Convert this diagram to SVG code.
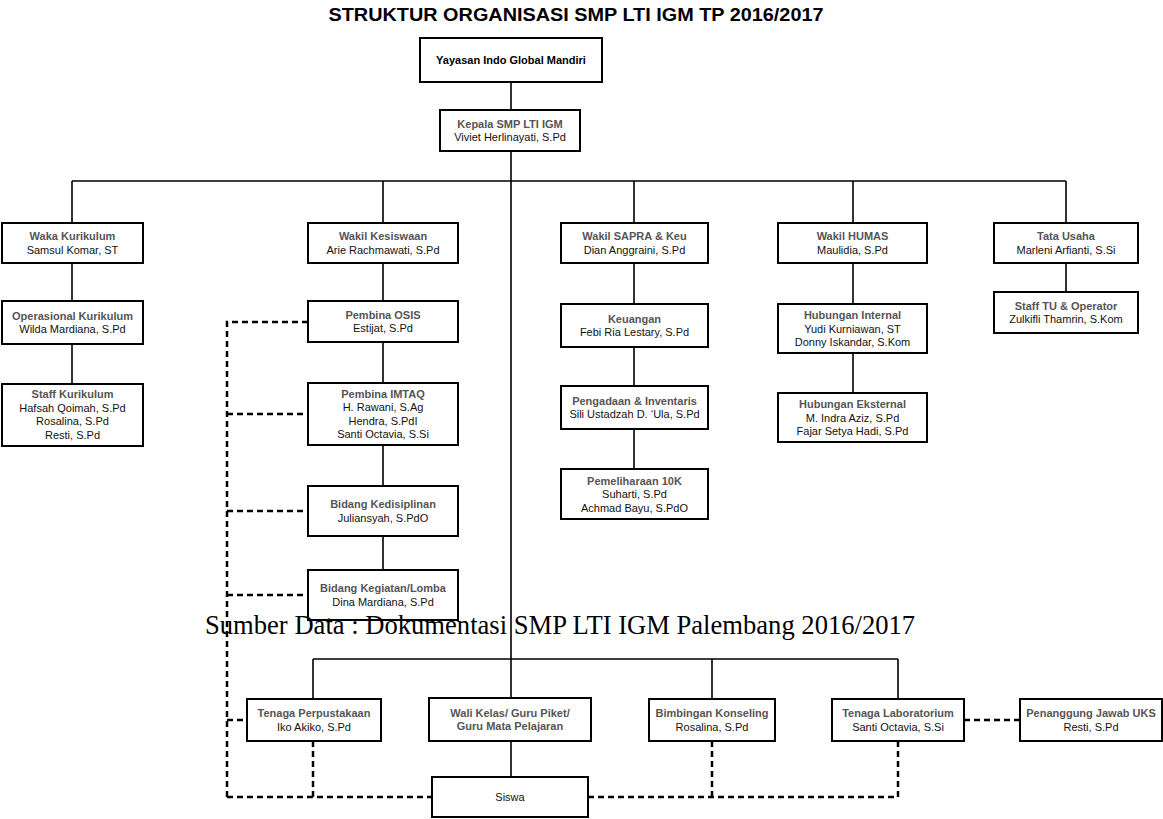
<svg xmlns="http://www.w3.org/2000/svg" width="1163" height="819" viewBox="0 0 1163 819">
<style>
.box{fill:#fff;stroke:#000;stroke-width:2}
.t{font-family:"Liberation Sans",Arial,sans-serif;font-size:11px;text-anchor:middle}
.h{font-weight:bold;fill:#555}
.n{fill:#111}
.b{font-weight:bold;fill:#000}
.ln{stroke:#000;stroke-width:1.6;fill:none}
.dash{stroke:#000;stroke-width:2.5;stroke-dasharray:6 4;fill:none}
</style>
<rect x="0" y="0" width="1163" height="819" fill="#fff"/>
<text x="576" y="21" font-family="'Liberation Sans',Arial,sans-serif" font-size="19" font-weight="bold" text-anchor="middle" textLength="495" lengthAdjust="spacingAndGlyphs">STRUKTUR ORGANISASI SMP LTI IGM TP 2016/2017</text>

<g id="connectors">
<path class="ln" d="M511 82V110M511 151V698M72 181H1066M72 181V223M383 181V223M634 181V223M853 181V223M1066 181V223"/>
<path class="ln" d="M72 263V301M72 344V384M383 263V301M383 342V383M383 445V486M383 536V570M634 263V304M634 347V386M634 429V469M853 263V304M853 353V393M1066 263V292"/>
<path class="ln" d="M313 659H898M313 659V699M712 659V699M898 659V699M511 741V777"/>
<path class="dash" d="M227 797V322H308M227 414H308M227 511H308M227 595H308M227 720H247M227 797H432M313 741V797M588 797H898M712 741V797M898 741V797M964 720H1020"/>
</g>

<g id="yayasan"><rect class="box" x="420" y="38" width="182" height="44"/><text class="t b" x="511" y="64">Yayasan Indo Global Mandiri</text></g>
<g id="kepala"><rect class="box" x="440" y="110" width="140" height="41"/><text class="t h" x="510" y="128">Kepala SMP LTI IGM</text><text class="t n" x="510" y="141">Viviet Herlinayati, S.Pd</text></g>

<g id="waka-kurikulum"><rect class="box" x="2" y="223" width="141" height="40"/><text class="t h" x="72.5" y="240">Waka Kurikulum</text><text class="t n" x="72.5" y="254">Samsul Komar, ST</text></g>
<g id="operasional-kurikulum"><rect class="box" x="2" y="301" width="141" height="43"/><text class="t h" x="72.5" y="320">Operasional Kurikulum</text><text class="t n" x="72.5" y="333">Wilda Mardiana, S.Pd</text></g>
<g id="staff-kurikulum"><rect class="box" x="2" y="384" width="141" height="62"/><text class="t h" x="72.5" y="398">Staff Kurikulum</text><text class="t n" x="72.5" y="411.5">Hafsah Qoimah, S.Pd</text><text class="t n" x="72.5" y="425">Rosalina, S.Pd</text><text class="t n" x="72.5" y="438.5">Resti, S.Pd</text></g>

<g id="wakil-kesiswaan"><rect class="box" x="308" y="223" width="150" height="40"/><text class="t h" x="383" y="240">Wakil Kesiswaan</text><text class="t n" x="383" y="254">Arie Rachmawati, S.Pd</text></g>
<g id="pembina-osis"><rect class="box" x="308" y="301" width="150" height="41"/><text class="t h" x="383" y="319">Pembina OSIS</text><text class="t n" x="383" y="332">Estijat, S.Pd</text></g>
<g id="pembina-imtaq"><rect class="box" x="308" y="383" width="150" height="62"/><text class="t h" x="383" y="398">Pembina IMTAQ</text><text class="t n" x="383" y="411">H. Rawani, S.Ag</text><text class="t n" x="383" y="425">Hendra, S.PdI</text><text class="t n" x="383" y="438">Santi Octavia, S.Si</text></g>
<g id="bidang-kedisiplinan"><rect class="box" x="308" y="486" width="150" height="50"/><text class="t h" x="383" y="508">Bidang Kedisiplinan</text><text class="t n" x="383" y="522">Juliansyah, S.PdO</text></g>
<g id="bidang-kegiatan"><rect class="box" x="308" y="570" width="150" height="50"/><text class="t h" x="383" y="592">Bidang Kegiatan/Lomba</text><text class="t n" x="383" y="606">Dina Mardiana, S.Pd</text></g>

<g id="wakil-sapra"><rect class="box" x="561" y="223" width="147" height="40"/><text class="t h" x="634.5" y="240">Wakil SAPRA &amp; Keu</text><text class="t n" x="634.5" y="254">Dian Anggraini, S.Pd</text></g>
<g id="keuangan"><rect class="box" x="561" y="304" width="147" height="43"/><text class="t h" x="634.5" y="323">Keuangan</text><text class="t n" x="634.5" y="336">Febi Ria Lestary, S.Pd</text></g>
<g id="pengadaan"><rect class="box" x="561" y="386" width="147" height="43"/><text class="t h" x="634.5" y="405">Pengadaan &amp; Inventaris</text><text class="t n" x="634.5" y="418">Sili Ustadzah D. ‘Ula, S.Pd</text></g>
<g id="pemeliharaan"><rect class="box" x="561" y="469" width="147" height="50"/><text class="t h" x="634.5" y="484.5">Pemeliharaan 10K</text><text class="t n" x="634.5" y="498">Suharti, S.Pd</text><text class="t n" x="634.5" y="511.5">Achmad Bayu, S.PdO</text></g>

<g id="wakil-humas"><rect class="box" x="778" y="223" width="149" height="40"/><text class="t h" x="852.5" y="240">Wakil HUMAS</text><text class="t n" x="852.5" y="254">Maulidia, S.Pd</text></g>
<g id="hubungan-internal"><rect class="box" x="778" y="304" width="149" height="49"/><text class="t h" x="852.5" y="319">Hubungan Internal</text><text class="t n" x="852.5" y="332.5">Yudi Kurniawan, ST</text><text class="t n" x="852.5" y="346">Donny Iskandar, S.Kom</text></g>
<g id="hubungan-eksternal"><rect class="box" x="778" y="393" width="149" height="49"/><text class="t h" x="852.5" y="408">Hubungan Eksternal</text><text class="t n" x="852.5" y="421.5">M. Indra Aziz, S.Pd</text><text class="t n" x="852.5" y="435">Fajar Setya Hadi, S.Pd</text></g>

<g id="tata-usaha"><rect class="box" x="994" y="223" width="144" height="40"/><text class="t h" x="1066" y="240">Tata Usaha</text><text class="t n" x="1066" y="254">Marleni Arfianti, S.Si</text></g>
<g id="staff-tu"><rect class="box" x="994" y="292" width="144" height="41"/><text class="t h" x="1066" y="310">Staff TU &amp; Operator</text><text class="t n" x="1066" y="323">Zulkifli Thamrin, S.Kom</text></g>

<text x="205" y="634" font-family="'Liberation Serif','Times New Roman',serif" font-size="26.6" fill="#000">Sumber Data : Dokumentasi SMP LTI IGM Palembang 2016/2017</text>

<g id="tenaga-perpustakaan"><rect class="box" x="247" y="699" width="134" height="42"/><text class="t h" x="314" y="717">Tenaga Perpustakaan</text><text class="t n" x="314" y="731">Iko Akiko, S.Pd</text></g>
<g id="wali-kelas"><rect class="box" x="429" y="698" width="162" height="43"/><text class="t h" x="510" y="717">Wali Kelas/ Guru Piket/</text><text class="t h" x="510" y="730">Guru Mata Pelajaran</text></g>
<g id="bimbingan-konseling"><rect class="box" x="649" y="699" width="126" height="42"/><text class="t h" x="712" y="717">Bimbingan Konseling</text><text class="t n" x="712" y="731">Rosalina, S.Pd</text></g>
<g id="tenaga-laboratorium"><rect class="box" x="832" y="699" width="132" height="42"/><text class="t h" x="898" y="717">Tenaga Laboratorium</text><text class="t n" x="898" y="731">Santi Octavia, S.Si</text></g>
<g id="penanggung-jawab-uks"><rect class="box" x="1020" y="699" width="142" height="42"/><text class="t h" x="1091" y="717">Penanggung Jawab UKS</text><text class="t n" x="1091" y="731">Resti, S.Pd</text></g>
<g id="siswa"><rect class="box" x="432" y="777" width="156" height="40"/><text class="t n" x="510" y="801">Siswa</text></g>
</svg>
